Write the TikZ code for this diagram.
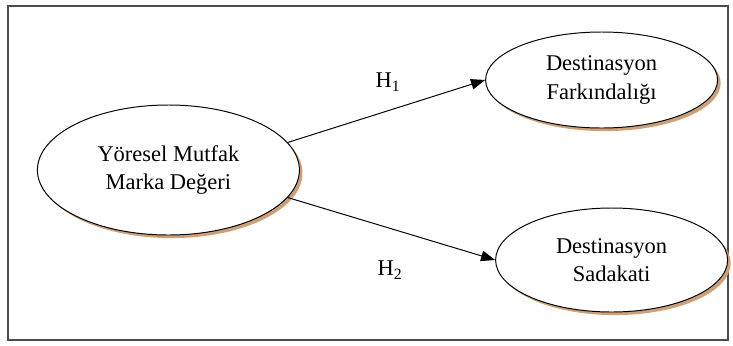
\documentclass[tikz,border=0pt]{standalone}
\usepackage{fontspec}
\setmainfont{Liberation Serif}
\usetikzlibrary{shapes.geometric,shadows,arrows.meta}
\definecolor{shadowtan}{RGB}{205,160,120}
\begin{document}
\begin{tikzpicture}[
  construct/.style={ellipse,draw,line width=.7pt,fill=white,align=center,
    font=\fontsize{16}{20}\selectfont,
    drop shadow={fill=shadowtan,opacity=1,shadow xshift=2.2pt,shadow yshift=-2.2pt}},
  hypo/.style={-{Triangle[length=10pt,width=7.5pt]},line width=.7pt},
  hlabel/.style={font=\fontsize{16}{20}\selectfont}
]
\useasboundingbox (0,0) rectangle (18.325,-8.625);
\draw[gray!60!black,line width=1pt] (.2,-.15) rectangle (18.2,-8.5);
\node[construct,minimum width=6.55cm,minimum height=3.25cm] (brand) at (4.21,-4.25) {Yöresel Mutfak\\Marka Değeri};
\node[construct,minimum width=5.8cm,minimum height=2.4cm] (aware) at (15.04,-2.0) {Destinasyon\\Farkındalığı};
\node[construct,minimum width=5.8cm,minimum height=2.6cm] (loyal) at (15.29,-6.5) {Destinasyon\\Sadakati};
\draw[hypo] (brand.13) -- (aware.west);
\draw[hypo] (brand.-13) -- (loyal.west);
\node[hlabel] (h1) at (9.7,-2.05) {H\textsubscript{1}};
\node[hlabel] (h2) at (9.75,-6.75) {H\textsubscript{2}};
\end{tikzpicture}
\end{document}
